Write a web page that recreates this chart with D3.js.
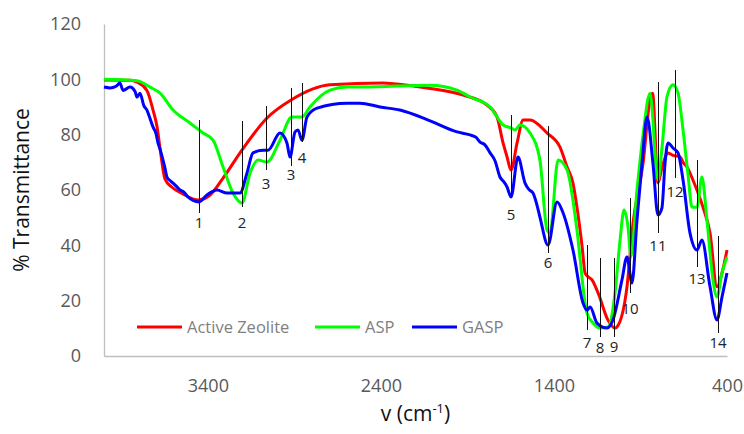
<!DOCTYPE html>
<html>
<head>
<meta charset="utf-8">
<style>
  body { margin: 0; background: #fff; }
  text { font-family: "Open Sans", sans-serif; }
  .tick text { fill: #595959; font-size: 18px; }
  .axis path { stroke: #bfbfbf; stroke-width: 1.3px; }
  .series { fill: none; stroke-width: 3px; stroke-linejoin: round; }
  .peak line { stroke: #111; stroke-width: 1px; shape-rendering: crispEdges; }
  .peak text { font-size: 15px; fill: #222; text-anchor: middle; }
  .legend text { font-size: 16.5px; fill: #808080; }
</style>
</head>
<body>
<svg id="chart" width="744" height="434"></svg>
<script src="https://d3js.org/d3.v7.min.js"></script>
<script>
  // readings: [wavenumber, % transmittance]
  const activeZeolite = [
    [4000, 99.8], [3850, 99.7], [3809, 99], [3752, 96], [3717, 89], [3694, 83],
    [3676, 75], [3648, 64], [3607, 61], [3544, 58.6], [3457, 56.4], [3387, 58.2],
    [3312, 64.3], [3203, 74.4], [3058, 86], [2919, 92.5], [2694, 98], [2388, 98.7],
    [2307, 98.3], [2134, 96.9], [1925, 94.3], [1787, 90.7], [1729, 86.4], [1694, 77],
    [1671, 72], [1648, 67.2], [1613, 77], [1578, 85.3], [1538, 85.3], [1440, 80.6],
    [1365, 75.5], [1324, 68.3], [1290, 62.5], [1267, 53.8], [1238, 40], [1220, 30],
    [1209, 29], [1180, 27.5], [1145, 22.8], [1088, 13], [1047, 10.1], [1036, 10.5],
    [978, 25], [943, 48], [885, 69.7], [845, 92.5], [830, 95], [799, 62.5],
    [776, 68], [741, 73.4], [712, 72.5], [671, 72], [654, 70], [631, 68.3],
    [597, 63.6], [539, 53.8], [498, 44.5], [458, 25], [429, 30], [400, 38.3]
  ];
  const asp = [
    [4000, 100], [3809, 99.5], [3734, 97.2], [3676, 95], [3601, 88.9], [3503, 84.2],
    [3428, 80.6], [3370, 78], [3312, 68.3], [3255, 58.9], [3203, 55.3], [3156, 66.1],
    [3110, 70.8], [3058, 70.1], [2983, 78], [2914, 86.4], [2856, 86.4], [2810, 90],
    [2694, 96.1], [2596, 97.2], [2503, 97.2], [2116, 97.9], [1960, 96.1], [1885, 93.6],
    [1769, 90], [1729, 86.4], [1694, 83.5], [1648, 82.4], [1625, 81.7], [1596, 83.5],
    [1538, 80.6], [1481, 70.8], [1440, 45.5], [1423, 44.5], [1376, 70.8], [1324, 67.2],
    [1267, 45.5], [1220, 19.2], [1209, 15.5], [1174, 11.9], [1134, 10.1], [1088, 10.5],
    [1047, 22.8], [1018, 41.9], [995, 52.8], [972, 46.6], [955, 36], [920, 60],
    [885, 80], [845, 95], [799, 63.6], [776, 75], [747, 93.6], [712, 98],
    [683, 95], [654, 81.7], [626, 66], [602, 53.8], [573, 53.8], [545, 64.7],
    [516, 49.2], [481, 27.5], [458, 21.3], [429, 30], [400, 35.8]
  ];
  const gasp = [
    [4000, 97.2], [3965, 96.9], [3930, 97.5], [3908, 98.7], [3890, 96], [3850, 97.2],
    [3820, 95.5], [3809, 93.6], [3792, 95], [3770, 90.5], [3752, 88.9], [3735, 86],
    [3717, 82.8], [3700, 80.5], [3688, 77], [3675, 74.5], [3659, 70.8], [3648, 68],
    [3636, 64.7], [3620, 63.5], [3601, 62.5], [3580, 61.2], [3561, 60], [3540, 59.3],
    [3515, 57.5], [3451, 55.7], [3405, 58.2], [3347, 60], [3289, 58.9], [3214, 58.9],
    [3174, 66.1], [3139, 73.4], [3081, 74.4], [3052, 74.4], [2983, 80.6], [2943, 77],
    [2925, 71.9], [2896, 81], [2879, 81.7], [2856, 78], [2827, 86.4], [2769, 89.6],
    [2596, 91.4], [2521, 91.4], [2405, 90], [2290, 88.9], [2116, 85], [1960, 81],
    [1885, 79.9], [1850, 79], [1827, 77.3], [1800, 76.4], [1769, 73.4], [1740, 70.5],
    [1712, 64.7], [1690, 63], [1671, 61.1], [1648, 57.5], [1608, 71.9], [1567, 62.5],
    [1545, 60.2], [1521, 58.9], [1500, 55], [1481, 50.2], [1434, 40.1], [1382, 55.7],
    [1347, 51.7], [1290, 38.3], [1232, 19.2], [1209, 16.6], [1191, 17.7], [1151, 11.9],
    [1093, 10.1], [1059, 13], [1007, 27.5], [978, 35.8], [949, 26.4], [920, 49.2],
    [891, 69.7], [862, 86.4], [828, 69.7], [799, 51], [776, 53.5], [758, 69.7],
    [741, 77], [712, 75.2], [683, 73.4], [654, 63.6], [614, 44.5], [573, 38.3],
    [545, 41.9], [498, 25], [458, 13], [429, 21.3], [400, 30]
  ];

  const seriesNames = ["Active Zeolite", "ASP", "GASP"];
  const seriesColors = ["#ff0000", "#00ff00", "#0000ff"];

  const xTicks = [3400, 2400, 1400, 400];
  const yTicks = [0, 20, 40, 60, 80, 100, 120];

  // peak markers: label, wavenumber, line top / bottom and label centre (in %T)
  const peakLabels = ["1", "2", "3", "3", "4", "5", "6", "7", "8", "9", "10", "11", "12", "13", "14"];
  const peakWn = [3451, 3203, 3064, 2919, 2856, 1648, 1434, 1209, 1134, 1053, 960, 799, 700, 573, 452];
  const peakTop = [85.3, 84.9, 90.4, 96.9, 98.7, 87.1, 83.1, 40.1, 35.4, 35.4, 57.1, 99, 103.4, 70.8, 43.4];
  const peakBottom = [51.7, 53.9, 67.2, 68.7, 77.3, 57.5, 37.2, 9.4, 6.9, 6.9, 22.8, 44.5, 64.3, 32.2, 8.3];
  const peakLabelT = [48.1, 48.1, 62.2, 65.4, 71.6, 51, 33.6, 4.7, 2.9, 3.3, 17, 39.8, 59.3, 27.8, 4.7];

  const svg = d3.select("#chart");
  const margin = { left: 104, right: 17, top: 24, bottom: 78 };
  const width = 744, height = 434;

  const x = d3.scaleLinear().domain([4000, 400]).range([margin.left, width - margin.right]);
  const y = d3.scaleLinear().domain([0, 120]).range([height - margin.bottom, margin.top]);

  svg.append("g")
    .attr("class", "axis")
    .attr("transform", `translate(0,${y(0)})`)
    .call(d3.axisBottom(x).tickValues(xTicks).tickSize(0).tickPadding(23).tickFormat(d3.format("d")))
    .call(g => g.selectAll(".tick line").remove());

  svg.append("g")
    .attr("class", "axis")
    .attr("transform", `translate(${x(4000)},0)`)
    .call(d3.axisLeft(y).tickValues(yTicks).tickSize(0).tickPadding(23))
    .call(g => g.selectAll(".tick line").remove());

  const line = d3.line()
    .x(d => x(d[0]))
    .y(d => y(d[1]))
    .curve(d3.curveMonotoneX);

  [activeZeolite, asp, gasp].forEach((data, i) => {
    svg.append("path")
      .datum(data)
      .attr("class", "series")
      .attr("stroke", seriesColors[i])
      .attr("d", line);
  });

  const peak = svg.append("g")
    .selectAll("g")
    .data(peakLabels.map((label, i) => ({ label, wn: peakWn[i], top: peakTop[i], bottom: peakBottom[i], lt: peakLabelT[i] })))
    .join("g")
    .attr("class", "peak");

  peak.append("line")
    .attr("x1", d => Math.round(x(d.wn)) + 0.5).attr("x2", d => Math.round(x(d.wn)) + 0.5)
    .attr("y1", d => y(d.top)).attr("y2", d => y(d.bottom));

  peak.append("text")
    .attr("x", d => x(d.wn))
    .attr("y", d => y(d.lt))
    .attr("dy", "0.36em")
    .text(d => d.label);

  // legend
  const legendX = [137, 315, 412];
  const legend = svg.append("g").attr("class", "legend")
    .selectAll("g")
    .data(seriesNames)
    .join("g")
    .attr("transform", (d, i) => `translate(${legendX[i]},327)`);

  legend.append("line")
    .attr("x1", 0).attr("x2", 45)
    .attr("stroke", (d, i) => seriesColors[i])
    .attr("stroke-width", 3);

  legend.append("text")
    .attr("x", 50)
    .attr("dy", "0.35em")
    .text(d => d);

  // axis titles
  svg.append("text")
    .attr("transform", `translate(29,${(y(0) + y(120)) / 2}) rotate(-90)`)
    .attr("text-anchor", "middle")
    .attr("font-size", 21)
    .attr("fill", "#111")
    .text("% Transmittance");

  const xt = svg.append("text")
    .attr("x", (x(4000) + x(400)) / 2)
    .attr("y", 421)
    .attr("text-anchor", "middle")
    .attr("font-size", 21)
    .attr("fill", "#111");
  xt.append("tspan").text("v (cm");
  xt.append("tspan").attr("font-size", 13).attr("dy", -8).text("-1");
  xt.append("tspan").attr("dy", 8).text(")");
</script>
</body>
</html>
